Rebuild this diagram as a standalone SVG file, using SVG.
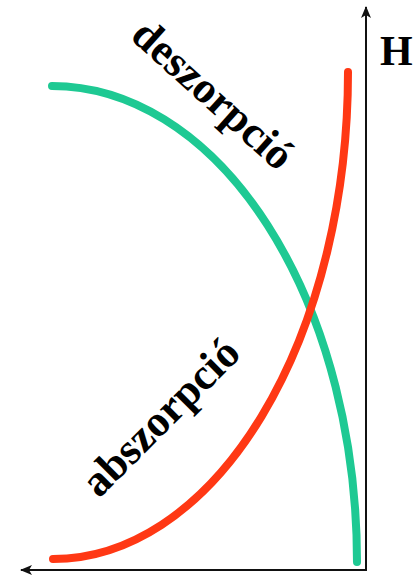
<svg xmlns="http://www.w3.org/2000/svg" width="414" height="576" viewBox="0 0 414 576">
<style>
.axis{stroke:#111;stroke-width:2;fill:none}
.curve{fill:none;stroke-width:8;stroke-linecap:round}
.lbl{font-family:"Liberation Serif","Times New Roman",serif;font-weight:bold;fill:#000}
</style>
<defs>
<marker id="arr" viewBox="0 0 12 12" refX="11" refY="6" markerWidth="12" markerHeight="12" markerUnits="userSpaceOnUse" orient="auto">
<path d="M0,1 L12,6 L0,11 L3,6 Z" fill="#111"/>
</marker>
</defs>
<rect width="414" height="576" fill="#fff"/>
<g id="connectors">
<path class="axis" d="M366,571 L366,7" marker-end="url(#arr)"/>
<path class="axis" d="M367,570 L21,570" marker-end="url(#arr)"/>
</g>
<g id="desorption">
<path class="curve" stroke="#1ec993" d="M52,86 A305,476 0 0 1 357,562"/>
<text class="lbl" font-size="44" transform="translate(129,38) rotate(42)">deszorpció</text>
</g>
<g id="absorption">
<path class="curve" stroke="#ff3814" d="M53,559 A295,487 0 0 0 348,72"/>
<text class="lbl" font-size="44" transform="translate(99,499) rotate(-45)">abszorpció</text>
</g>
<g id="axis-label">
<text class="lbl" font-size="42" x="380" y="65">H</text>
</g>
</svg>
